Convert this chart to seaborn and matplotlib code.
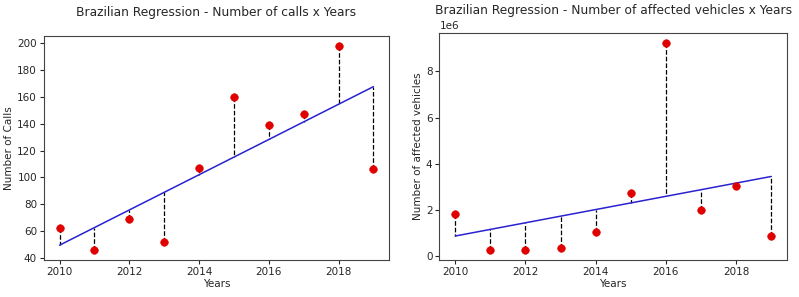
import numpy as np
import pandas as pd
import seaborn as sns
from matplotlib import pyplot as plt

# data
years = [2010, 2011, 2012, 2013, 2014, 2015, 2016, 2017, 2018, 2019]
calls = [62, 46, 69, 52, 107, 160, 139, 147, 198, 106]
vehicles = [1.85e6, 0.28e6, 0.28e6, 0.37e6, 1.05e6, 2.72e6, 9.22e6, 2.00e6, 3.03e6, 0.87e6]

sns.set_style("ticks")
plt.rcParams['font.family'] = ['DejaVu Sans']

fig = plt.figure(figsize=(7.99, 2.97), dpi=100)
ax1 = fig.add_axes([0.055, 0.124, 0.432, 0.756])
ax2 = fig.add_axes([0.550, 0.124, 0.435, 0.765])


def regression_plot(ax, y, ylabel, title):
    df = pd.DataFrame({"Years": years, "y": y})
    # least squares fit, as in the original
    slope, intercept = np.polyfit(df["Years"], df["y"], 1)
    df["fit"] = slope * df["Years"] + intercept

    # residual lines
    ax.vlines(df["Years"], df["y"], df["fit"], colors='black', linestyles='dashed', linewidth=0.9, zorder=1)
    sns.lineplot(data=df, x="Years", y="fit", ax=ax, color='#2a22d0', linewidth=1.1, zorder=2)
    sns.scatterplot(data=df, x="Years", y="y", ax=ax, color='#e00000', s=30, edgecolor='#e00000', zorder=3)

    ax.set_xlabel('Years', fontsize=7.5, labelpad=1)
    ax.set_ylabel(ylabel, fontsize=7.5, labelpad=2)
    # fixed y so the "1e6" offset text does not push the title up
    ax.set_title(title, fontsize=8.8, y=1.0, pad=14)
    ax.tick_params(labelsize=7.5, length=3, pad=2)
    ax.set_xticks([2010, 2012, 2014, 2016, 2018])
    for s in ax.spines.values():
        s.set_color('#444444')
        s.set_linewidth(0.8)


regression_plot(ax1, calls, 'Number of Calls', 'Brazilian Regression - Number of calls x Years')
ax1.set_yticks([40, 60, 80, 100, 120, 140, 160, 180, 200])

regression_plot(ax2, vehicles, 'Number of affected vehicles', 'Brazilian Regression - Number of affected vehicles x Years')
ax2.set_yticks([0, 2e6, 4e6, 6e6, 8e6])
ax2.yaxis.get_offset_text().set_fontsize(7.5)

plt.savefig('out.png', dpi=100)
